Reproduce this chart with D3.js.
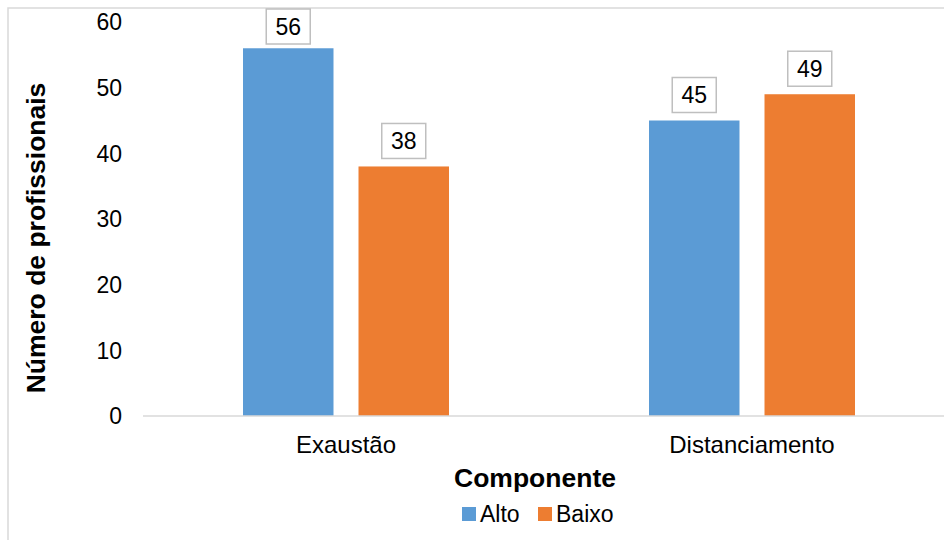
<!DOCTYPE html>
<html><head><meta charset="utf-8">
<script src="https://cdn.jsdelivr.net/npm/d3@7"></script>
<style>body{margin:0;background:#fff}svg{display:block;font-family:"Liberation Sans",Arial,sans-serif}</style>
</head><body>
<svg id="c" width="944" height="540"></svg>
<script>
const categories = ["Exaustão", "Distanciamento"];
const seriesNames = ["Alto", "Baixo"];
const alto = [56, 45];
const baixo = [38, 49];
const yTicks = [0, 10, 20, 30, 40, 50, 60];
const colors = ["#5b9bd5", "#ed7d31"];

const svg = d3.select("#c");
// outer chart border (cropped at right/bottom)
svg.append("rect").attr("x", 8).attr("y", 8).attr("width", 960).attr("height", 560)
  .attr("fill", "#fff").attr("stroke", "#d9d9d9").attr("stroke-width", 1.5);

const x0 = d3.scaleBand().domain(categories).range([143, 955]).paddingInner(0).paddingOuter(0);
const x1 = d3.scaleBand().domain(seriesNames).range([100, 306]).paddingInner(0.2165).paddingOuter(0);
const y = d3.scaleLinear().domain([0, 60]).range([416, 22]);

const data = categories.map((c, i) => ({cat: c, vals: [alto[i], baixo[i]]}));

// y tick labels
svg.append("g").selectAll("text").data(yTicks).join("text")
  .attr("x", 122).attr("y", d => y(d)).attr("dy", "0.36em")
  .attr("text-anchor", "end").attr("font-size", 23).attr("fill", "#000").text(d => d);

// bars
const g = svg.append("g").selectAll("g").data(data).join("g")
  .attr("transform", d => `translate(${x0(d.cat)},0)`);
g.selectAll("rect").data(d => d.vals.map((v, j) => ({s: seriesNames[j], v, j}))).join("rect")
  .attr("x", d => x1(d.s)).attr("width", x1.bandwidth())
  .attr("y", d => y(d.v)).attr("height", d => y(0) - y(d.v))
  .attr("fill", d => colors[d.j]);

// baseline
svg.append("line").attr("x1", 143).attr("x2", 944).attr("y1", y(0)).attr("y2", y(0))
  .attr("stroke", "#d9d9d9").attr("stroke-width", 1.5);

// data labels
const bw = 44, bh = 35;
const lab = g.selectAll("g.lab").data(d => d.vals.map((v, j) => ({s: seriesNames[j], v, j}))).join("g")
  .attr("class", "lab")
  .attr("transform", d => {
    const cx = x1(d.s) + x1.bandwidth() / 2;
    const top = Math.max(9, y(d.v) - 8 - bh);
    return `translate(${cx},${top})`;
  });
lab.append("rect").attr("x", -bw / 2).attr("y", 0).attr("width", bw).attr("height", bh)
  .attr("fill", "#fff").attr("stroke", "#bfbfbf").attr("stroke-width", 1.5);
lab.append("text").attr("x", 0).attr("y", bh / 2).attr("dy", "0.36em")
  .attr("text-anchor", "middle").attr("font-size", 23).attr("fill", "#000").text(d => d.v);

// category labels
svg.append("g").selectAll("text").data(categories).join("text")
  .attr("x", d => x0(d) + x0.bandwidth() / 2).attr("y", 453)
  .attr("text-anchor", "middle").attr("font-size", 24).attr("fill", "#000").text(d => d);

// axis titles
svg.append("text").attr("x", 535).attr("y", 487).attr("text-anchor", "middle")
  .attr("font-size", 26.5).attr("font-weight", "bold").attr("fill", "#000").text("Componente");
svg.append("text").attr("transform", "translate(45,238) rotate(-90)").attr("text-anchor", "middle")
  .attr("font-size", 26.5).attr("font-weight", "bold").attr("fill", "#000").text("Número de profissionais");

// legend
const legX = [462, 538];
const lg = svg.append("g").selectAll("g").data(seriesNames).join("g")
  .attr("transform", (d, i) => `translate(${legX[i]},0)`);
lg.append("rect").attr("x", 0).attr("y", 507).attr("width", 14).attr("height", 14)
  .attr("fill", (d, i) => colors[i]);
lg.append("text").attr("x", 18).attr("y", 522).attr("font-size", 23).attr("fill", "#000").text(d => d);
</script>
</body></html>
